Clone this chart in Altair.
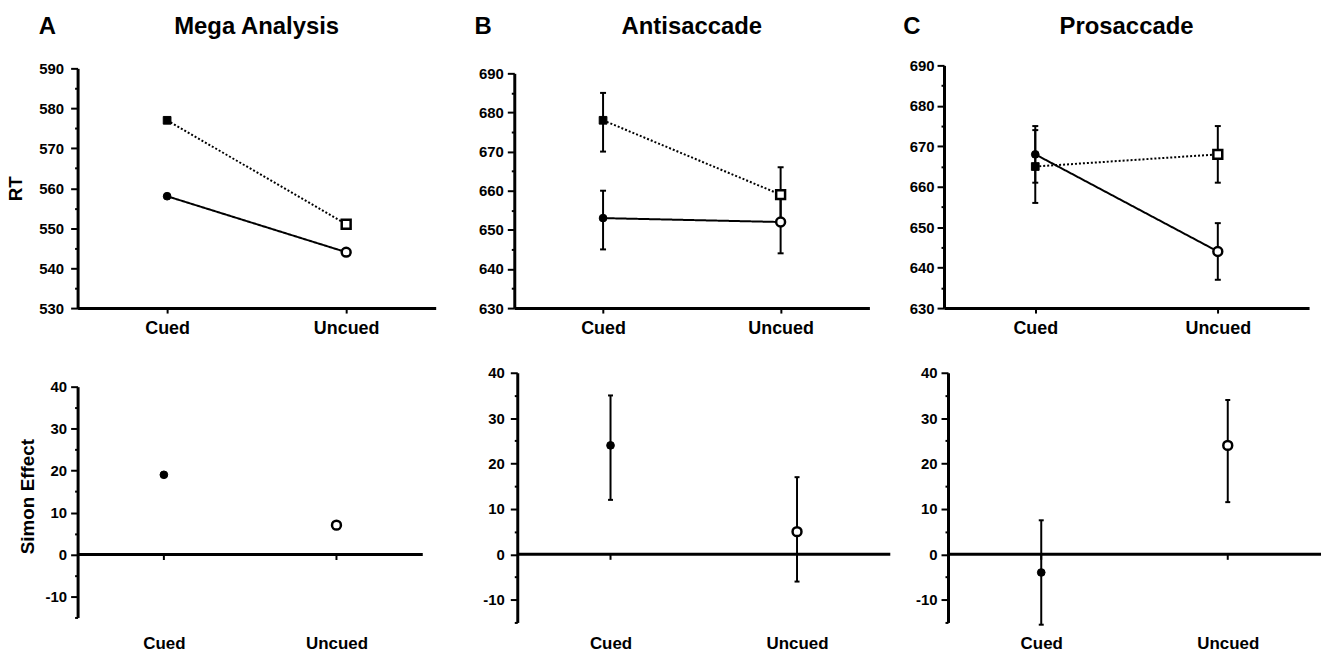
import altair as alt
import pandas as pd

conditions = ["Cued", "Uncued"]
series_names = ["Incongruent", "Congruent"]  # dotted squares / solid circles

# Panel A - Mega Analysis (RT)
mega_incong = [577, 551]
mega_cong = [558, 544]
# Panel B - Antisaccade (RT)
anti_incong = [678, 659]
anti_incong_lo = [670, 652]
anti_incong_hi = [685, 666]
anti_cong = [653, 652]
anti_cong_lo = [645, 644]
anti_cong_hi = [660, 660]
# Panel C - Prosaccade (RT)
pro_incong = [665, 668]
pro_incong_lo = [656, 661]
pro_incong_hi = [674, 675]
pro_cong = [668, 644]
pro_cong_lo = [661, 637]
pro_cong_hi = [675, 651]
# Simon effect
mega_simon = [19, 7]
anti_simon = [24, 5]
anti_simon_lo = [12, -6]
anti_simon_hi = [35, 17]
pro_simon = [-4, 24]
pro_simon_lo = [-15.5, 11.5]
pro_simon_hi = [7.5, 34]

panel_letters = ["A", "B", "C"]
panel_titles = ["Mega Analysis", "Antisaccade", "Prosaccade"]
rt_domains = [[530, 590], [630, 690], [630, 690]]
simon_domain = [-15, 40]

FONT = "Liberation Sans"
BLACK = "#000000"


def yaxis(domain, title, label_padding, extent=None, title_padding=10, title_y=None):
    vals = list(range(domain[0], domain[1] + 1, 5))
    kw = dict(
        values=vals,
        labelExpr="datum.value % 10 === 0 ? '' + datum.value : ''",
        tickSize={"condition": {"test": "datum.value % 10 === 0", "value": 7}, "value": 3},
        tickWidth=2,
        tickColor=BLACK,
        domainColor=BLACK,
        domainWidth=3,
        labelFontSize=15,
        labelFontWeight="bold",
        labelColor=BLACK,
        labelPadding=label_padding,
        grid=False,
        title=title,
        titleFontSize=19,
        titleFontWeight="bold",
        titleColor=BLACK,
        titlePadding=title_padding,
    )
    if extent is not None:
        kw["minExtent"] = extent
        kw["maxExtent"] = extent
    if title_y is not None:
        kw["titleY"] = title_y
    return alt.Axis(**kw)


def xaxis_top():
    return alt.Axis(title=None, labelAngle=0, domainColor=BLACK, domainWidth=3,
                    tickSize=5, tickWidth=2, tickColor=BLACK, labelFontSize=18,
                    labelFontWeight="bold", labelColor=BLACK, labelPadding=7, grid=False)


def xaxis_bottom(pad, fs):
    return alt.Axis(title=None, labelAngle=0, domain=False, ticks=False,
                    labelFontSize=fs, labelFontWeight="bold", labelColor=BLACK,
                    labelPadding=pad, grid=False)


def xenc(axis):
    return alt.X("cond:N", scale=alt.Scale(type="point", padding=0.5, domain=conditions), axis=axis)


def deco(letter, title, w, lx, ty):
    layers = []
    layers.append(alt.Chart(pd.DataFrame({"t": [letter]})).mark_text(
        align="left", baseline="middle", fontSize=24, fontWeight="bold", color=BLACK, font=FONT
    ).encode(text="t:N", x=alt.value(lx), y=alt.value(ty)))
    layers.append(alt.Chart(pd.DataFrame({"t": [title]})).mark_text(
        align="center", baseline="middle", fontSize=24, fontWeight="bold", color=BLACK, font=FONT
    ).encode(text="t:N", x=alt.value(w / 2), y=alt.value(ty)))
    return layers


def spacer(L, T, ybot=None):
    layers = [alt.Chart(pd.DataFrame({"s": [0]})).mark_rule(opacity=0, strokeWidth=0.1).encode(
        x=alt.value(-L), x2=alt.value(-L + 1), y=alt.value(-T))]
    if ybot is not None:
        layers.append(alt.Chart(pd.DataFrame({"s": [0]})).mark_rule(opacity=0, strokeWidth=0.1).encode(
            x=alt.value(0), x2=alt.value(1), y=alt.value(ybot)))
    return layers


def top_panel(i, inc, cong, inc_lo, inc_hi, cong_lo, cong_hi, w, h, ytop, lx, ty, L, T,
              ytitle, lpad, extent=None, tpad=10):
    df = pd.DataFrame({
        "cond": conditions * 2,
        "series": [series_names[0]] * 2 + [series_names[1]] * 2,
        "value": inc + cong,
        "lo": (inc_lo or [None, None]) + (cong_lo or [None, None]),
        "hi": (inc_hi or [None, None]) + (cong_hi or [None, None]),
    })
    dom = rt_domains[i]
    ax = yaxis(dom, ytitle, lpad, extent, tpad)
    sc = alt.Scale(domain=dom, nice=False, zero=False, range=[h, ytop])
    base = alt.Chart(df)
    layers = []
    layers.append(base.mark_line(color=BLACK, strokeWidth=2).encode(
        x=xenc(xaxis_top()),
        y=alt.Y("value:Q", scale=sc, axis=ax),
        detail="series:N",
        strokeDash=alt.StrokeDash("series:N", scale=alt.Scale(domain=series_names, range=[[2, 2], [1, 0]]), legend=None),
    ))
    if inc_lo is not None:
        layers.append(base.mark_rule(color=BLACK, strokeWidth=2).encode(
            x=xenc(xaxis_top()), y=alt.Y("lo:Q", scale=sc, axis=ax), y2="hi:Q"))
        for f in ["lo", "hi"]:
            layers.append(base.mark_tick(color=BLACK, thickness=2, size=6, orient="horizontal", opacity=1).encode(
                x=xenc(xaxis_top()), y=alt.Y(f + ":Q", scale=sc, axis=ax)))
    layers.append(base.mark_point(filled=True, stroke=BLACK, opacity=1).encode(
        x=xenc(xaxis_top()),
        y=alt.Y("value:Q", scale=sc, axis=ax),
        shape=alt.Shape("series:N", scale=alt.Scale(domain=series_names, range=["square", "circle"]), legend=None),
        fill=alt.Fill("cond:N", scale=alt.Scale(domain=conditions, range=[BLACK, "#ffffff"]), legend=None),
        size=alt.Size("cond:O", scale=alt.Scale(domain=conditions, range=[60, 80]), legend=None),
        strokeWidth=alt.StrokeWidth("cond:O", scale=alt.Scale(domain=conditions, range=[1, 2.5]), legend=None),
    ))
    layers += deco(panel_letters[i], panel_titles[i], w, lx, ty)
    layers += spacer(L, T, h + 30)
    return alt.layer(*layers).properties(width=w, height=h)


def bottom_panel(vals, lo, hi, w, h, ytop, ybot, L, T, ytitle, lpad, xpad, xfs, extent=None, tpad=10,
                 title_y=None):
    df = pd.DataFrame({
        "cond": conditions,
        "value": vals,
        "lo": lo or [None, None],
        "hi": hi or [None, None],
        "z": [0, 0],
    })
    ax = yaxis(simon_domain, ytitle, lpad, extent, tpad, title_y)
    sc = alt.Scale(domain=simon_domain, nice=False, zero=False, range=[ybot, ytop])
    xa = xaxis_bottom(xpad, xfs)
    base = alt.Chart(df)
    layers = []
    layers.append(alt.Chart(pd.DataFrame({"z": [0]})).mark_rule(color=BLACK, strokeWidth=3).encode(
        y=alt.Y("z:Q", scale=sc, axis=ax), x=alt.value(0), x2=alt.value(w)))
    layers.append(base.mark_tick(color=BLACK, thickness=2, size=5, orient="vertical", yOffset=3, opacity=1).encode(
        x=xenc(xa), y=alt.Y("z:Q", scale=sc, axis=ax)))
    if lo is not None:
        layers.append(base.mark_rule(color=BLACK, strokeWidth=2).encode(
            x=xenc(xa), y=alt.Y("lo:Q", scale=sc, axis=ax), y2="hi:Q"))
        for f in ["lo", "hi"]:
            layers.append(base.mark_tick(color=BLACK, thickness=2, size=5, orient="horizontal", opacity=1).encode(
                x=xenc(xa), y=alt.Y(f + ":Q", scale=sc, axis=ax)))
    layers.append(base.mark_point(filled=True, stroke=BLACK, opacity=1, shape="circle").encode(
        x=xenc(xa),
        y=alt.Y("value:Q", scale=sc, axis=ax),
        fill=alt.Fill("cond:N", scale=alt.Scale(domain=conditions, range=[BLACK, "#ffffff"]), legend=None),
        size=alt.Size("cond:O", scale=alt.Scale(domain=conditions, range=[65, 85]), legend=None),
        strokeWidth=alt.StrokeWidth("cond:O", scale=alt.Scale(domain=conditions, range=[1, 2.5]), legend=None),
    ))
    layers += spacer(L, T)
    return alt.layer(*layers).properties(width=w, height=h)


TOP_H = 244
A_top = top_panel(0, mega_incong, mega_cong, None, None, None, None, 360, TOP_H, 3, -39, -39, 70, 60,
                  "RT", 7, extent=40, tpad=12)
B_top = top_panel(1, anti_incong, anti_cong, anti_incong_lo, anti_incong_hi, anti_cong_lo, anti_cong_hi,
                  357, TOP_H, 8, -40, -39, 45, 60, None, 4)
C_top = top_panel(2, pro_incong, pro_cong, pro_incong_lo, pro_incong_hi, pro_cong_lo, pro_cong_hi,
                  367, TOP_H, 0, -41, -39, 45, 60, None, 3)

BOT_H = 251
A_bot = bottom_panel(mega_simon, None, None, 347, BOT_H, 14, 246, 70, 15, "Simon Effect", 4, 13, 17,
                     extent=30, tpad=10, title_y=124)
B_bot = bottom_panel(anti_simon, anti_simon_lo, anti_simon_hi, 375, BOT_H, 0, BOT_H, 45, 15, None, 6, 13, 17)
C_bot = bottom_panel(pro_simon, pro_simon_lo, pro_simon_hi, 375, BOT_H, 0, BOT_H, 45, 15, None, 4, 13, 17)

row1 = alt.hconcat(A_top, alt.hconcat(B_top, C_top, spacing=30), spacing=34)
row2 = alt.hconcat(A_bot, alt.hconcat(B_bot, C_bot, spacing=11), spacing=48)

chart = alt.vconcat(row1, row2, spacing=20).properties(
    padding={"left": 7, "top": 4, "right": 0, "bottom": 0},
    background="#ffffff",
).configure(font=FONT).configure_view(stroke=None)

chart.save("out.html", embed_options={"renderer": "svg", "actions": False})
